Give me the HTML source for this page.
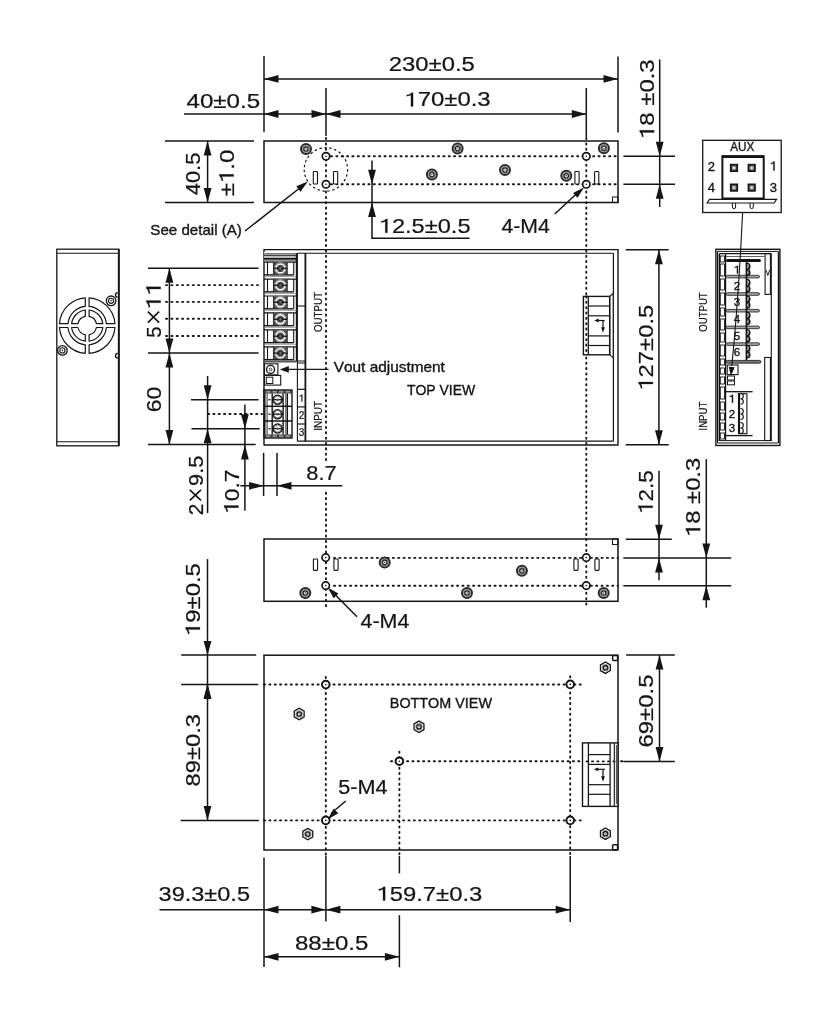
<!DOCTYPE html>
<html><head><meta charset="utf-8"><style>
html,body{margin:0;padding:0;background:#fff;}
svg{display:block;filter:grayscale(1);}
text{font-family:"Liberation Sans",sans-serif;fill:#151515;stroke:#151515;stroke-width:0.22px;font-kerning:none;}
text.b{stroke-width:0.35px;}
</style></head><body>
<svg width="838" height="1024" viewBox="0 0 838 1024">
<rect width="838" height="1024" fill="#fff"/>
<line x1="264" y1="56" x2="264" y2="132" stroke="#141414" stroke-width="1.5"/>
<line x1="618" y1="56.5" x2="618" y2="132.5" stroke="#141414" stroke-width="1.5"/>
<line x1="326" y1="88" x2="326" y2="136" stroke="#141414" stroke-width="1.5"/>
<line x1="586.3" y1="88" x2="586.3" y2="137" stroke="#141414" stroke-width="1.5"/>
<line x1="264" y1="78.9" x2="618" y2="78.9" stroke="#141414" stroke-width="1.5"/>
<polygon points="264,78.9 278.5,75 278.5,82.8" fill="#141414"/>
<polygon points="618,78.9 603.5,75 603.5,82.8" fill="#141414"/>
<line x1="184" y1="114" x2="586.3" y2="114" stroke="#141414" stroke-width="1.5"/>
<polygon points="264,114 278.5,110.1 278.5,117.9" fill="#141414"/>
<polygon points="326,114 311.5,110.1 311.5,117.9" fill="#141414"/>
<polygon points="326,114 340.5,110.1 340.5,117.9" fill="#141414"/>
<polygon points="586.3,114 571.8,110.1 571.8,117.9" fill="#141414"/>
<text x="388.8" y="71.1" font-size="20" textLength="86" lengthAdjust="spacingAndGlyphs">230±0.5</text>
<text x="404.36" y="106.4" font-size="20" textLength="86.29" lengthAdjust="spacingAndGlyphs"> 70±0.3</text><path transform="translate(404.36,106.40) scale(0.01168,-0.00977)" d="M560,0 L750,0 L750,1409 L610,1409 C540,1300 420,1210 200,1175 L200,1040 C370,1060 480,1110 560,1170 Z" fill="#151515" stroke="#151515" stroke-width="0.22" vector-effect="non-scaling-stroke"/>
<text x="186.45" y="108.2" font-size="20.4" textLength="73.77" lengthAdjust="spacingAndGlyphs">40±0.5</text>
<line x1="659.7" y1="59.4" x2="659.7" y2="207" stroke="#141414" stroke-width="1.5"/>
<polygon points="659.7,156.3 655.8,141.8 663.6,141.8" fill="#141414"/>
<polygon points="659.7,184.3 655.8,198.8 663.6,198.8" fill="#141414"/>
<line x1="623.4" y1="156.3" x2="675" y2="156.3" stroke="#141414" stroke-width="1.5"/>
<line x1="623.4" y1="184.3" x2="675" y2="184.3" stroke="#141414" stroke-width="1.5"/>
<g transform="translate(654.13,136.7) rotate(-90)"><text x="-2.34" y="0" font-size="21" textLength="79.69" lengthAdjust="spacingAndGlyphs"> 8 ±0.3</text><path transform="translate(-2.34,0.00) scale(0.01169,-0.01025)" d="M560,0 L750,0 L750,1409 L610,1409 C540,1300 420,1210 200,1175 L200,1040 C370,1060 480,1110 560,1170 Z" fill="#151515" stroke="#151515" stroke-width="0.22" vector-effect="non-scaling-stroke"/></g>
<rect x="264" y="141" width="354" height="61.5" fill="none" stroke="#141414" stroke-width="1.5"/>
<rect x="612.5" y="197" width="5.5" height="5.5" fill="none" stroke="#141414" stroke-width="1"/>
<line x1="165" y1="141" x2="254" y2="141" stroke="#141414" stroke-width="1.5"/>
<line x1="165" y1="202.5" x2="254" y2="202.5" stroke="#141414" stroke-width="1.5"/>
<line x1="207.6" y1="141" x2="207.6" y2="202.5" stroke="#141414" stroke-width="1.5"/>
<polygon points="207.6,141 203.7,155.5 211.5,155.5" fill="#141414"/>
<polygon points="207.6,202.5 203.7,188 211.5,188" fill="#141414"/>
<g transform="translate(199.83,194.8) rotate(-90)"><text x="-0.5" y="0" font-size="21" textLength="42.62" lengthAdjust="spacingAndGlyphs">40.5</text></g>
<g transform="translate(233.73,195.6) rotate(-90)"><text x="-0.76" y="0" font-size="21" textLength="46.6" lengthAdjust="spacingAndGlyphs">± .0</text><path transform="translate(12.43,0.00) scale(0.01174,-0.01025)" d="M560,0 L750,0 L750,1409 L610,1409 C540,1300 420,1210 200,1175 L200,1040 C370,1060 480,1110 560,1170 Z" fill="#151515" stroke="#151515" stroke-width="0.22" vector-effect="non-scaling-stroke"/></g>
<line x1="331" y1="156.3" x2="618" y2="156.3" stroke="#141414" stroke-width="1.9" stroke-dasharray="1.1 4.25" stroke-dashoffset="0" stroke-linecap="round"/>
<line x1="331" y1="184.3" x2="618" y2="184.3" stroke="#141414" stroke-width="1.9" stroke-dasharray="1.1 4.25" stroke-dashoffset="0" stroke-linecap="round"/>
<line x1="326" y1="138" x2="326" y2="464" stroke="#141414" stroke-width="1.9" stroke-dasharray="1.1 4.25" stroke-dashoffset="0" stroke-linecap="round"/>
<line x1="326" y1="492.7" x2="326" y2="607.5" stroke="#141414" stroke-width="1.9" stroke-dasharray="1.1 4.25" stroke-dashoffset="0" stroke-linecap="round"/>
<line x1="586.3" y1="138" x2="586.3" y2="606" stroke="#141414" stroke-width="1.9" stroke-dasharray="1.1 4.25" stroke-dashoffset="0" stroke-linecap="round"/>
<circle cx="325.9" cy="169.4" r="21.7" fill="none" stroke="#141414" stroke-width="1.2" stroke-dasharray="2.4 2.6"/>
<circle cx="326" cy="156.3" r="3.7" fill="#fff" stroke="#141414" stroke-width="1.7"/>
<circle cx="326" cy="156.3" r="0.8" fill="#141414" stroke="#141414" stroke-width="0"/>
<circle cx="326" cy="184.3" r="3.7" fill="#fff" stroke="#141414" stroke-width="1.7"/>
<circle cx="326" cy="184.3" r="0.8" fill="#141414" stroke="#141414" stroke-width="0"/>
<circle cx="586.3" cy="156.3" r="3.7" fill="#fff" stroke="#141414" stroke-width="1.7"/>
<circle cx="586.3" cy="156.3" r="0.8" fill="#141414" stroke="#141414" stroke-width="0"/>
<circle cx="586.3" cy="184.3" r="3.7" fill="#fff" stroke="#141414" stroke-width="1.7"/>
<circle cx="586.3" cy="184.3" r="0.8" fill="#141414" stroke="#141414" stroke-width="0"/>
<rect x="313.3" y="171.5" width="4.2" height="12.5" fill="#fff" stroke="#141414" stroke-width="1.1" rx="0.8"/>
<rect x="333.5" y="171.5" width="4.2" height="12.5" fill="#fff" stroke="#141414" stroke-width="1.1" rx="0.8"/>
<rect x="574.9" y="171.5" width="4.2" height="12.5" fill="#fff" stroke="#141414" stroke-width="1.1" rx="0.8"/>
<rect x="594.6" y="171.5" width="4.2" height="12.5" fill="#fff" stroke="#141414" stroke-width="1.1" rx="0.8"/>
<circle cx="306" cy="149" r="5" fill="#d0d0d0" stroke="#2a2a2a" stroke-width="2.0"/>
<circle cx="306" cy="149" r="3.3" fill="none" stroke="#666" stroke-width="0.8"/>
<circle cx="306" cy="149" r="2.2" fill="#fff" stroke="#222" stroke-width="1.2"/>
<circle cx="306" cy="149" r="0.7" fill="#141414" stroke="#141414" stroke-width="0"/>
<circle cx="457.6" cy="148.6" r="5" fill="#d0d0d0" stroke="#2a2a2a" stroke-width="2.0"/>
<circle cx="457.6" cy="148.6" r="3.3" fill="none" stroke="#666" stroke-width="0.8"/>
<circle cx="457.6" cy="148.6" r="2.2" fill="#fff" stroke="#222" stroke-width="1.2"/>
<circle cx="457.6" cy="148.6" r="0.7" fill="#141414" stroke="#141414" stroke-width="0"/>
<circle cx="431.9" cy="174.6" r="5" fill="#d0d0d0" stroke="#2a2a2a" stroke-width="2.0"/>
<circle cx="431.9" cy="174.6" r="3.3" fill="none" stroke="#666" stroke-width="0.8"/>
<circle cx="431.9" cy="174.6" r="2.2" fill="#fff" stroke="#222" stroke-width="1.2"/>
<circle cx="431.9" cy="174.6" r="0.7" fill="#141414" stroke="#141414" stroke-width="0"/>
<circle cx="505" cy="170.1" r="5" fill="#d0d0d0" stroke="#2a2a2a" stroke-width="2.0"/>
<circle cx="505" cy="170.1" r="3.3" fill="none" stroke="#666" stroke-width="0.8"/>
<circle cx="505" cy="170.1" r="2.2" fill="#fff" stroke="#222" stroke-width="1.2"/>
<circle cx="505" cy="170.1" r="0.7" fill="#141414" stroke="#141414" stroke-width="0"/>
<circle cx="566.3" cy="175.8" r="5" fill="#d0d0d0" stroke="#2a2a2a" stroke-width="2.0"/>
<circle cx="566.3" cy="175.8" r="3.3" fill="none" stroke="#666" stroke-width="0.8"/>
<circle cx="566.3" cy="175.8" r="2.2" fill="#fff" stroke="#222" stroke-width="1.2"/>
<circle cx="566.3" cy="175.8" r="0.7" fill="#141414" stroke="#141414" stroke-width="0"/>
<circle cx="603.9" cy="148.2" r="5" fill="#d0d0d0" stroke="#2a2a2a" stroke-width="2.0"/>
<circle cx="603.9" cy="148.2" r="3.3" fill="none" stroke="#666" stroke-width="0.8"/>
<circle cx="603.9" cy="148.2" r="2.2" fill="#fff" stroke="#222" stroke-width="1.2"/>
<circle cx="603.9" cy="148.2" r="0.7" fill="#141414" stroke="#141414" stroke-width="0"/>
<text x="150.31" y="235.2" font-size="14.3" textLength="91.62" lengthAdjust="spacingAndGlyphs" class="b">See detail (A)</text>
<line x1="245" y1="231" x2="301" y2="187" stroke="#141414" stroke-width="1.5"/>
<polygon points="307.8,181.6 300.47,191.69 296.27,186.35" fill="#141414"/>
<line x1="372" y1="160.5" x2="372" y2="238.3" stroke="#141414" stroke-width="1.5"/>
<line x1="371.3" y1="238.3" x2="469.6" y2="238.3" stroke="#141414" stroke-width="1.5"/>
<polygon points="372,184.3 368.1,169.8 375.9,169.8" fill="#141414"/>
<polygon points="372,202.5 368.1,217 375.9,217" fill="#141414"/>
<text x="378.79" y="232.8" font-size="20.2" textLength="91.8" lengthAdjust="spacingAndGlyphs"> 2.5±0.5</text><path transform="translate(378.79,232.80) scale(0.01154,-0.00986)" d="M560,0 L750,0 L750,1409 L610,1409 C540,1300 420,1210 200,1175 L200,1040 C370,1060 480,1110 560,1170 Z" fill="#151515" stroke="#151515" stroke-width="0.22" vector-effect="non-scaling-stroke"/>
<text x="501.41" y="232.6" font-size="20.4" textLength="48.41" lengthAdjust="spacingAndGlyphs">4-M4</text>
<line x1="554.8" y1="214" x2="580" y2="190.5" stroke="#141414" stroke-width="1.5"/>
<polygon points="584.2,187.3 577.54,197.81 573.1,192.92" fill="#141414"/>
<line x1="264" y1="249.7" x2="618" y2="249.7" stroke="#141414" stroke-width="1.3"/>
<line x1="297.3" y1="253.2" x2="613.4" y2="253.2" stroke="#141414" stroke-width="1.1"/>
<line x1="264" y1="249.1" x2="264" y2="445.6" stroke="#141414" stroke-width="1.4"/>
<line x1="618" y1="249.1" x2="618" y2="445.6" stroke="#141414" stroke-width="1.4"/>
<line x1="613.4" y1="253.2" x2="613.4" y2="441.2" stroke="#141414" stroke-width="1.2"/>
<line x1="264" y1="445" x2="618" y2="445" stroke="#141414" stroke-width="1.3"/>
<line x1="297.4" y1="441.2" x2="613.4" y2="441.2" stroke="#141414" stroke-width="1.2"/>
<line x1="297.4" y1="253.2" x2="297.4" y2="441.2" stroke="#141414" stroke-width="1.1"/>
<line x1="305.4" y1="253.2" x2="305.4" y2="441.2" stroke="#141414" stroke-width="1.8"/>
<line x1="297.4" y1="306" x2="305.4" y2="306" stroke="#141414" stroke-width="1.1"/>
<line x1="297.4" y1="361" x2="305.4" y2="361" stroke="#141414" stroke-width="1.0"/>
<line x1="297.4" y1="363" x2="305.4" y2="363" stroke="#141414" stroke-width="1.0"/>
<line x1="297.4" y1="389.3" x2="305.4" y2="389.3" stroke="#141414" stroke-width="1.2"/>
<line x1="297.4" y1="406.9" x2="305.4" y2="406.9" stroke="#141414" stroke-width="1.2"/>
<line x1="297.4" y1="424" x2="305.4" y2="424" stroke="#141414" stroke-width="1.2"/>
<path transform="translate(298.72,401.50) scale(0.00488,-0.00488)" d="M560,0 L750,0 L750,1409 L610,1409 C540,1300 420,1210 200,1175 L200,1040 C370,1060 480,1110 560,1170 Z" fill="#151515" stroke="#151515" stroke-width="0.22" vector-effect="non-scaling-stroke"/>
<text x="301.5" y="418.8" font-size="10" text-anchor="middle">2</text>
<text x="301.5" y="436.2" font-size="10" text-anchor="middle">3</text>
<rect x="264" y="252" width="32.4" height="10" fill="#fff" stroke="none"/>
<line x1="264" y1="253.8" x2="296.4" y2="253.8" stroke="#444" stroke-width="1.0"/>
<line x1="264" y1="255.3" x2="296.4" y2="255.3" stroke="#141414" stroke-width="1.0"/>
<line x1="264" y1="257" x2="296.4" y2="257" stroke="#666" stroke-width="0.9"/>
<line x1="264" y1="258.9" x2="296.4" y2="258.9" stroke="#141414" stroke-width="1.6"/>
<line x1="264" y1="260.8" x2="296.4" y2="260.8" stroke="#555" stroke-width="0.9"/>
<line x1="296.4" y1="253.2" x2="296.4" y2="362" stroke="#141414" stroke-width="1.2"/>
<line x1="264" y1="262.1" x2="296.4" y2="262.1" stroke="#141414" stroke-width="1.2"/>
<line x1="267.5" y1="262.1" x2="267.5" y2="274.9" stroke="#141414" stroke-width="1.1"/>
<line x1="273.5" y1="262.1" x2="273.5" y2="274.9" stroke="#141414" stroke-width="1.1"/>
<line x1="287.1" y1="262.1" x2="287.1" y2="274.9" stroke="#141414" stroke-width="1.1"/>
<line x1="293.7" y1="262.1" x2="293.7" y2="274.9" stroke="#141414" stroke-width="1.1"/>
<line x1="264" y1="274.9" x2="293.7" y2="274.9" stroke="#141414" stroke-width="1.4"/>
<rect x="273.4" y="262.6" width="14" height="11.8" fill="#4a4a4a"/>
<circle cx="280.4" cy="268.4" r="4.4" fill="none" stroke="#fff" stroke-width="1.6"/>
<circle cx="280.4" cy="268.4" r="5.7" fill="none" stroke="#bbb" stroke-width="0.8"/>
<line x1="273.4" y1="268.4" x2="287.4" y2="268.4" stroke="#141414" stroke-width="1.4"/>
<circle cx="280.4" cy="268.4" r="1.6" fill="#777" stroke="#222" stroke-width="0.8"/>
<line x1="264" y1="276.5" x2="296.4" y2="276.5" stroke="#888" stroke-width="0.8"/>
<line x1="264" y1="279.05" x2="296.4" y2="279.05" stroke="#141414" stroke-width="1.2"/>
<line x1="267.5" y1="279.05" x2="267.5" y2="291.85" stroke="#141414" stroke-width="1.1"/>
<line x1="273.5" y1="279.05" x2="273.5" y2="291.85" stroke="#141414" stroke-width="1.1"/>
<line x1="287.1" y1="279.05" x2="287.1" y2="291.85" stroke="#141414" stroke-width="1.1"/>
<line x1="293.7" y1="279.05" x2="293.7" y2="291.85" stroke="#141414" stroke-width="1.1"/>
<line x1="264" y1="291.85" x2="293.7" y2="291.85" stroke="#141414" stroke-width="1.4"/>
<rect x="273.4" y="279.55" width="14" height="11.8" fill="#4a4a4a"/>
<circle cx="280.4" cy="285.35" r="4.4" fill="none" stroke="#fff" stroke-width="1.6"/>
<circle cx="280.4" cy="285.35" r="5.7" fill="none" stroke="#bbb" stroke-width="0.8"/>
<line x1="273.4" y1="285.35" x2="287.4" y2="285.35" stroke="#141414" stroke-width="1.4"/>
<circle cx="280.4" cy="285.35" r="1.6" fill="#777" stroke="#222" stroke-width="0.8"/>
<line x1="264" y1="293.45" x2="296.4" y2="293.45" stroke="#888" stroke-width="0.8"/>
<line x1="264" y1="296" x2="296.4" y2="296" stroke="#141414" stroke-width="1.2"/>
<line x1="267.5" y1="296" x2="267.5" y2="308.8" stroke="#141414" stroke-width="1.1"/>
<line x1="273.5" y1="296" x2="273.5" y2="308.8" stroke="#141414" stroke-width="1.1"/>
<line x1="287.1" y1="296" x2="287.1" y2="308.8" stroke="#141414" stroke-width="1.1"/>
<line x1="293.7" y1="296" x2="293.7" y2="308.8" stroke="#141414" stroke-width="1.1"/>
<line x1="264" y1="308.8" x2="293.7" y2="308.8" stroke="#141414" stroke-width="1.4"/>
<rect x="273.4" y="296.5" width="14" height="11.8" fill="#4a4a4a"/>
<circle cx="280.4" cy="302.3" r="4.4" fill="none" stroke="#fff" stroke-width="1.6"/>
<circle cx="280.4" cy="302.3" r="5.7" fill="none" stroke="#bbb" stroke-width="0.8"/>
<line x1="273.4" y1="302.3" x2="287.4" y2="302.3" stroke="#141414" stroke-width="1.4"/>
<circle cx="280.4" cy="302.3" r="1.6" fill="#777" stroke="#222" stroke-width="0.8"/>
<line x1="264" y1="310.4" x2="296.4" y2="310.4" stroke="#888" stroke-width="0.8"/>
<line x1="264" y1="312.95" x2="296.4" y2="312.95" stroke="#141414" stroke-width="1.2"/>
<line x1="267.5" y1="312.95" x2="267.5" y2="325.75" stroke="#141414" stroke-width="1.1"/>
<line x1="273.5" y1="312.95" x2="273.5" y2="325.75" stroke="#141414" stroke-width="1.1"/>
<line x1="287.1" y1="312.95" x2="287.1" y2="325.75" stroke="#141414" stroke-width="1.1"/>
<line x1="293.7" y1="312.95" x2="293.7" y2="325.75" stroke="#141414" stroke-width="1.1"/>
<line x1="264" y1="325.75" x2="293.7" y2="325.75" stroke="#141414" stroke-width="1.4"/>
<rect x="273.4" y="313.45" width="14" height="11.8" fill="#4a4a4a"/>
<circle cx="280.4" cy="319.25" r="4.4" fill="none" stroke="#fff" stroke-width="1.6"/>
<circle cx="280.4" cy="319.25" r="5.7" fill="none" stroke="#bbb" stroke-width="0.8"/>
<line x1="273.4" y1="319.25" x2="287.4" y2="319.25" stroke="#141414" stroke-width="1.4"/>
<circle cx="280.4" cy="319.25" r="1.6" fill="#777" stroke="#222" stroke-width="0.8"/>
<line x1="264" y1="327.35" x2="296.4" y2="327.35" stroke="#888" stroke-width="0.8"/>
<line x1="264" y1="329.9" x2="296.4" y2="329.9" stroke="#141414" stroke-width="1.2"/>
<line x1="267.5" y1="329.9" x2="267.5" y2="342.7" stroke="#141414" stroke-width="1.1"/>
<line x1="273.5" y1="329.9" x2="273.5" y2="342.7" stroke="#141414" stroke-width="1.1"/>
<line x1="287.1" y1="329.9" x2="287.1" y2="342.7" stroke="#141414" stroke-width="1.1"/>
<line x1="293.7" y1="329.9" x2="293.7" y2="342.7" stroke="#141414" stroke-width="1.1"/>
<line x1="264" y1="342.7" x2="293.7" y2="342.7" stroke="#141414" stroke-width="1.4"/>
<rect x="273.4" y="330.4" width="14" height="11.8" fill="#4a4a4a"/>
<circle cx="280.4" cy="336.2" r="4.4" fill="none" stroke="#fff" stroke-width="1.6"/>
<circle cx="280.4" cy="336.2" r="5.7" fill="none" stroke="#bbb" stroke-width="0.8"/>
<line x1="273.4" y1="336.2" x2="287.4" y2="336.2" stroke="#141414" stroke-width="1.4"/>
<circle cx="280.4" cy="336.2" r="1.6" fill="#777" stroke="#222" stroke-width="0.8"/>
<line x1="264" y1="344.3" x2="296.4" y2="344.3" stroke="#888" stroke-width="0.8"/>
<line x1="264" y1="346.85" x2="296.4" y2="346.85" stroke="#141414" stroke-width="1.2"/>
<line x1="267.5" y1="346.85" x2="267.5" y2="359.65" stroke="#141414" stroke-width="1.1"/>
<line x1="273.5" y1="346.85" x2="273.5" y2="359.65" stroke="#141414" stroke-width="1.1"/>
<line x1="287.1" y1="346.85" x2="287.1" y2="359.65" stroke="#141414" stroke-width="1.1"/>
<line x1="293.7" y1="346.85" x2="293.7" y2="359.65" stroke="#141414" stroke-width="1.1"/>
<line x1="264" y1="359.65" x2="293.7" y2="359.65" stroke="#141414" stroke-width="1.4"/>
<rect x="273.4" y="347.35" width="14" height="11.8" fill="#4a4a4a"/>
<circle cx="280.4" cy="353.15" r="4.4" fill="none" stroke="#fff" stroke-width="1.6"/>
<circle cx="280.4" cy="353.15" r="5.7" fill="none" stroke="#bbb" stroke-width="0.8"/>
<line x1="273.4" y1="353.15" x2="287.4" y2="353.15" stroke="#141414" stroke-width="1.4"/>
<circle cx="280.4" cy="353.15" r="1.6" fill="#777" stroke="#222" stroke-width="0.8"/>
<line x1="264" y1="361.25" x2="296.4" y2="361.25" stroke="#888" stroke-width="0.8"/>
<line x1="264" y1="361.6" x2="296.4" y2="361.6" stroke="#555" stroke-width="2.0"/>
<rect x="264.5" y="363.8" width="13.4" height="11.1" fill="none" stroke="#141414" stroke-width="1.1"/>
<circle cx="270.5" cy="369.4" r="4" fill="none" stroke="#141414" stroke-width="1.4"/>
<circle cx="270.5" cy="369.4" r="1.4" fill="none" stroke="#141414" stroke-width="0.8"/>
<rect x="264.5" y="375.4" width="16.2" height="9.7" fill="none" stroke="#141414" stroke-width="1.1"/>
<rect x="266.3" y="377.2" width="6.5" height="6.3" fill="none" stroke="#141414" stroke-width="1.0"/>
<line x1="286" y1="369.4" x2="328.6" y2="369.4" stroke="#141414" stroke-width="1.1"/>
<polygon points="279.8,369.4 288.8,366.1 288.8,372.7" fill="#141414"/>
<text x="333.73" y="371.7" font-size="14.5" textLength="111.18" lengthAdjust="spacingAndGlyphs" class="b">Vout adjustment</text>
<text x="406.89" y="394.6" font-size="14.3" textLength="68.36" lengthAdjust="spacingAndGlyphs" class="b">TOP VIEW</text>
<rect x="264" y="390" width="28" height="48" fill="none" stroke="#141414" stroke-width="1.4"/>
<rect x="264.5" y="390.3" width="27" height="3.2" fill="#333"/>
<rect x="264.5" y="434.5" width="27" height="3.2" fill="#333"/>
<line x1="266" y1="391.9" x2="270.5" y2="391.9" stroke="#eee" stroke-width="0.9"/>
<line x1="266" y1="436.1" x2="270.5" y2="436.1" stroke="#eee" stroke-width="0.9"/>
<line x1="272.5" y1="391.9" x2="277" y2="391.9" stroke="#eee" stroke-width="0.9"/>
<line x1="272.5" y1="436.1" x2="277" y2="436.1" stroke="#eee" stroke-width="0.9"/>
<line x1="279" y1="391.9" x2="283.5" y2="391.9" stroke="#eee" stroke-width="0.9"/>
<line x1="279" y1="436.1" x2="283.5" y2="436.1" stroke="#eee" stroke-width="0.9"/>
<line x1="285.5" y1="391.9" x2="290" y2="391.9" stroke="#eee" stroke-width="0.9"/>
<line x1="285.5" y1="436.1" x2="290" y2="436.1" stroke="#eee" stroke-width="0.9"/>
<line x1="264.8" y1="393.5" x2="264.8" y2="434.5" stroke="#141414" stroke-width="1.4"/>
<line x1="267.1" y1="393.5" x2="267.1" y2="434.5" stroke="#141414" stroke-width="0.9"/>
<line x1="272.2" y1="393.5" x2="272.2" y2="434.5" stroke="#141414" stroke-width="1.4"/>
<line x1="283.1" y1="393.5" x2="283.1" y2="434.5" stroke="#141414" stroke-width="1.4"/>
<line x1="285.9" y1="393.5" x2="285.9" y2="434.5" stroke="#141414" stroke-width="0.9"/>
<line x1="287.4" y1="393.5" x2="287.4" y2="434.5" stroke="#141414" stroke-width="1.3"/>
<circle cx="277.6" cy="399.7" r="4.5" fill="none" stroke="#141414" stroke-width="1.5"/>
<path d="M274.4,398.5 a3.3,3.3 0 0 1 6.4,0 M274.4,400.9 a3.3,3.3 0 0 0 6.4,0" fill="none" stroke="#666" stroke-width="1"/>
<line x1="272.2" y1="399.7" x2="283.1" y2="399.7" stroke="#141414" stroke-width="1.3"/>
<circle cx="277.6" cy="399.7" r="1.2" fill="#555" stroke="#141414" stroke-width="0"/>
<line x1="268.5" y1="399.7" x2="270.5" y2="399.7" stroke="#141414" stroke-width="1.4"/>
<circle cx="277.6" cy="414.2" r="4.5" fill="none" stroke="#141414" stroke-width="1.5"/>
<path d="M274.4,413 a3.3,3.3 0 0 1 6.4,0 M274.4,415.4 a3.3,3.3 0 0 0 6.4,0" fill="none" stroke="#666" stroke-width="1"/>
<line x1="272.2" y1="414.2" x2="283.1" y2="414.2" stroke="#141414" stroke-width="1.3"/>
<circle cx="277.6" cy="414.2" r="1.2" fill="#555" stroke="#141414" stroke-width="0"/>
<line x1="268.5" y1="414.2" x2="270.5" y2="414.2" stroke="#141414" stroke-width="1.4"/>
<circle cx="277.6" cy="428.6" r="4.5" fill="none" stroke="#141414" stroke-width="1.5"/>
<path d="M274.4,427.4 a3.3,3.3 0 0 1 6.4,0 M274.4,429.8 a3.3,3.3 0 0 0 6.4,0" fill="none" stroke="#666" stroke-width="1"/>
<line x1="272.2" y1="428.6" x2="283.1" y2="428.6" stroke="#141414" stroke-width="1.3"/>
<circle cx="277.6" cy="428.6" r="1.2" fill="#555" stroke="#141414" stroke-width="0"/>
<line x1="268.5" y1="428.6" x2="270.5" y2="428.6" stroke="#141414" stroke-width="1.4"/>
<line x1="264" y1="406.3" x2="292" y2="406.3" stroke="#141414" stroke-width="1.5"/>
<line x1="264" y1="421" x2="292" y2="421" stroke="#141414" stroke-width="1.5"/>
<g transform="translate(322.32,331.6) rotate(-90)"><text x="-0.46" y="0" font-size="11.8" textLength="40.09" lengthAdjust="spacingAndGlyphs">OUTPUT</text></g>
<g transform="translate(322.06,429.8) rotate(-90)"><text x="-0.91" y="0" font-size="11.8" textLength="29.74" lengthAdjust="spacingAndGlyphs">INPUT</text></g>
<polygon points="609.7,296.4 613.2,293.5 613.2,357.7 609.7,354.8" fill="#fff" stroke="#141414" stroke-width="1.1"/>
<rect x="583.4" y="296.4" width="26.3" height="58.4" fill="#fff" stroke="#141414" stroke-width="1.4"/>
<line x1="588.3" y1="296.4" x2="588.3" y2="354.8" stroke="#141414" stroke-width="1.3"/>
<line x1="588.3" y1="306" x2="609.7" y2="306" stroke="#141414" stroke-width="1.2"/>
<line x1="588.3" y1="315.8" x2="609.7" y2="315.8" stroke="#141414" stroke-width="1.2"/>
<line x1="588.3" y1="335.9" x2="609.7" y2="335.9" stroke="#141414" stroke-width="1.2"/>
<line x1="588.3" y1="345.5" x2="609.7" y2="345.5" stroke="#141414" stroke-width="1.2"/>
<line x1="597.5" y1="320.5" x2="604.8" y2="320.5" stroke="#141414" stroke-width="1.2"/>
<line x1="603" y1="320.5" x2="603" y2="329" stroke="#141414" stroke-width="1.2"/>
<polygon points="603,332.7 601.1,327.2 604.9,327.2" fill="#141414"/>
<polygon points="594.2,320.5 598.7,318.6 598.7,322.4" fill="#141414"/>
<line x1="586.3" y1="296.4" x2="586.3" y2="354.8" stroke="#141414" stroke-width="1.9" stroke-dasharray="1.1 4.25" stroke-dashoffset="0" stroke-linecap="round"/>
<line x1="148" y1="268.3" x2="258.6" y2="268.3" stroke="#141414" stroke-width="1.5"/>
<line x1="148" y1="353.1" x2="258.6" y2="353.1" stroke="#141414" stroke-width="1.5"/>
<line x1="148" y1="444.6" x2="255.7" y2="444.6" stroke="#141414" stroke-width="1.5"/>
<line x1="166" y1="285.1" x2="262" y2="285.1" stroke="#141414" stroke-width="1.9" stroke-dasharray="1.1 4.25" stroke-dashoffset="0" stroke-linecap="round"/>
<line x1="166" y1="301.9" x2="262" y2="301.9" stroke="#141414" stroke-width="1.9" stroke-dasharray="1.1 4.25" stroke-dashoffset="0" stroke-linecap="round"/>
<line x1="166" y1="318.8" x2="262" y2="318.8" stroke="#141414" stroke-width="1.9" stroke-dasharray="1.1 4.25" stroke-dashoffset="0" stroke-linecap="round"/>
<line x1="166" y1="336" x2="262" y2="336" stroke="#141414" stroke-width="1.9" stroke-dasharray="1.1 4.25" stroke-dashoffset="0" stroke-linecap="round"/>
<line x1="169.4" y1="268.3" x2="169.4" y2="353.1" stroke="#141414" stroke-width="1.5"/>
<polygon points="169.4,268.3 165.5,282.8 173.3,282.8" fill="#141414"/>
<polygon points="169.4,353.1 165.5,338.6 173.3,338.6" fill="#141414"/>
<line x1="169.4" y1="353.1" x2="169.4" y2="444.6" stroke="#141414" stroke-width="1.5"/>
<polygon points="169.4,353.1 165.5,367.6 173.3,367.6" fill="#141414"/>
<polygon points="169.4,444.6 165.5,430.1 173.3,430.1" fill="#141414"/>
<g transform="translate(160.72,336.9) rotate(-90)"><text x="-0.82" y="0" font-size="21" textLength="11.38" lengthAdjust="spacingAndGlyphs">5</text></g>
<g transform="translate(160.72,307.2) rotate(-90)"><text x="-2.42" y="0" font-size="21" textLength="27.51" lengthAdjust="spacingAndGlyphs">  </text><path transform="translate(-2.42,0.00) scale(0.01208,-0.01025)" d="M560,0 L750,0 L750,1409 L610,1409 C540,1300 420,1210 200,1175 L200,1040 C370,1060 480,1110 560,1170 Z" fill="#151515" stroke="#151515" stroke-width="0.22" vector-effect="non-scaling-stroke"/><path transform="translate(11.34,0.00) scale(0.01208,-0.01025)" d="M560,0 L750,0 L750,1409 L610,1409 C540,1300 420,1210 200,1175 L200,1040 C370,1060 480,1110 560,1170 Z" fill="#151515" stroke="#151515" stroke-width="0.22" vector-effect="non-scaling-stroke"/></g>
<line x1="147.9" y1="311.6" x2="159.1" y2="322.6" stroke="#141414" stroke-width="1.6"/>
<line x1="147.9" y1="322.6" x2="159.1" y2="311.6" stroke="#141414" stroke-width="1.6"/>
<g transform="translate(160.83,411) rotate(-90)"><text x="-1.16" y="0" font-size="21" textLength="25.35" lengthAdjust="spacingAndGlyphs">60</text></g>
<line x1="191" y1="399.8" x2="258.6" y2="399.8" stroke="#141414" stroke-width="1.5"/>
<line x1="191.5" y1="428.7" x2="259.6" y2="428.7" stroke="#141414" stroke-width="1.5"/>
<line x1="208" y1="414" x2="262" y2="414" stroke="#141414" stroke-width="1.9" stroke-dasharray="1.1 4.25" stroke-dashoffset="0" stroke-linecap="round"/>
<line x1="207.6" y1="376" x2="207.6" y2="513" stroke="#141414" stroke-width="1.5"/>
<polygon points="207.6,399.8 203.7,385.3 211.5,385.3" fill="#141414"/>
<polygon points="207.6,428.7 203.7,443.2 211.5,443.2" fill="#141414"/>
<line x1="244.9" y1="404.5" x2="244.9" y2="510.7" stroke="#141414" stroke-width="1.5"/>
<polygon points="244.9,428.7 241,414.2 248.8,414.2" fill="#141414"/>
<polygon points="244.9,445 241,459.5 248.8,459.5" fill="#141414"/>
<g transform="translate(202.73,514.2) rotate(-90)"><text x="-1.05" y="0" font-size="21" textLength="11.6" lengthAdjust="spacingAndGlyphs">2</text></g>
<g transform="translate(202.73,484.9) rotate(-90)"><text x="-1.02" y="0" font-size="21" textLength="30.13" lengthAdjust="spacingAndGlyphs">9.5</text></g>
<line x1="189.8" y1="489.9" x2="201" y2="500.4" stroke="#141414" stroke-width="1.6"/>
<line x1="189.8" y1="500.4" x2="201" y2="489.9" stroke="#141414" stroke-width="1.6"/>
<g transform="translate(238.53,511.7) rotate(-90)"><text x="-2.23" y="0" font-size="21" textLength="44.48" lengthAdjust="spacingAndGlyphs"> 0.7</text><path transform="translate(-2.23,0.00) scale(0.01116,-0.01025)" d="M560,0 L750,0 L750,1409 L610,1409 C540,1300 420,1210 200,1175 L200,1040 C370,1060 480,1110 560,1170 Z" fill="#151515" stroke="#151515" stroke-width="0.22" vector-effect="non-scaling-stroke"/></g>
<line x1="263.6" y1="452.9" x2="263.6" y2="496" stroke="#141414" stroke-width="1.5"/>
<line x1="277" y1="452.9" x2="277" y2="496" stroke="#141414" stroke-width="1.5"/>
<line x1="240.3" y1="485.8" x2="342.3" y2="485.8" stroke="#141414" stroke-width="1.5"/>
<polygon points="263.6,485.8 249.1,481.9 249.1,489.7" fill="#141414"/>
<polygon points="277,485.8 291.5,481.9 291.5,489.7" fill="#141414"/>
<text x="306.25" y="480.1" font-size="20" textLength="30.35" lengthAdjust="spacingAndGlyphs">8.7</text>
<line x1="625.7" y1="249.8" x2="668.7" y2="249.8" stroke="#141414" stroke-width="1.5"/>
<line x1="625.7" y1="444.8" x2="668.7" y2="444.8" stroke="#141414" stroke-width="1.5"/>
<line x1="658.9" y1="249.8" x2="658.9" y2="444.8" stroke="#141414" stroke-width="1.5"/>
<polygon points="658.9,249.8 655,264.3 662.8,264.3" fill="#141414"/>
<polygon points="658.9,444.8 655,430.3 662.8,430.3" fill="#141414"/>
<g transform="translate(652.93,388.3) rotate(-90)"><text x="-2.33" y="0" font-size="21" textLength="85.93" lengthAdjust="spacingAndGlyphs"> 27±0.5</text><path transform="translate(-2.33,0.00) scale(0.01163,-0.01025)" d="M560,0 L750,0 L750,1409 L610,1409 C540,1300 420,1210 200,1175 L200,1040 C370,1060 480,1110 560,1170 Z" fill="#151515" stroke="#151515" stroke-width="0.22" vector-effect="non-scaling-stroke"/></g>
<rect x="56.8" y="249.2" width="62" height="196.6" fill="none" stroke="#141414" stroke-width="1.3"/>
<line x1="56.8" y1="253.3" x2="118.8" y2="253.3" stroke="#141414" stroke-width="1.1"/>
<line x1="56.8" y1="441.8" x2="118.8" y2="441.8" stroke="#141414" stroke-width="1.1"/>
<line x1="118.8" y1="249.2" x2="118.8" y2="445.8" stroke="#141414" stroke-width="1.9"/>
<path d="M114.93,327.5 A27.8,27.8 0 0 1 89.1,353.33 L89.1,344.81 A19.3,19.3 0 0 0 106.41,327.5 Z" fill="none" stroke="#141414" stroke-width="1.2" stroke-linejoin="round"/>
<path d="M102.78,327.5 A15.7,15.7 0 0 1 89.1,341.18 L89.1,334.81 A9.4,9.4 0 0 0 96.41,327.5 Z" fill="none" stroke="#141414" stroke-width="1.2" stroke-linejoin="round"/>
<path d="M85.3,353.33 A27.8,27.8 0 0 1 59.47,327.5 L67.99,327.5 A19.3,19.3 0 0 0 85.3,344.81 Z" fill="none" stroke="#141414" stroke-width="1.2" stroke-linejoin="round"/>
<path d="M85.3,341.18 A15.7,15.7 0 0 1 71.62,327.5 L77.99,327.5 A9.4,9.4 0 0 0 85.3,334.81 Z" fill="none" stroke="#141414" stroke-width="1.2" stroke-linejoin="round"/>
<path d="M59.47,323.7 A27.8,27.8 0 0 1 85.3,297.87 L85.3,306.39 A19.3,19.3 0 0 0 67.99,323.7 Z" fill="none" stroke="#141414" stroke-width="1.2" stroke-linejoin="round"/>
<path d="M71.62,323.7 A15.7,15.7 0 0 1 85.3,310.02 L85.3,316.39 A9.4,9.4 0 0 0 77.99,323.7 Z" fill="none" stroke="#141414" stroke-width="1.2" stroke-linejoin="round"/>
<path d="M89.1,297.87 A27.8,27.8 0 0 1 114.93,323.7 L106.41,323.7 A19.3,19.3 0 0 0 89.1,306.39 Z" fill="none" stroke="#141414" stroke-width="1.2" stroke-linejoin="round"/>
<path d="M89.1,310.02 A15.7,15.7 0 0 1 102.78,323.7 L96.41,323.7 A9.4,9.4 0 0 0 89.1,316.39 Z" fill="none" stroke="#141414" stroke-width="1.2" stroke-linejoin="round"/>
<circle cx="111.1" cy="300.8" r="4.8" fill="#fff" stroke="#141414" stroke-width="1.3"/>
<circle cx="111.1" cy="300.8" r="2.6" fill="none" stroke="#141414" stroke-width="1.1"/>
<circle cx="111.1" cy="300.8" r="0.8" fill="#141414" stroke="#141414" stroke-width="0"/>
<circle cx="62.4" cy="350.4" r="4.8" fill="#fff" stroke="#141414" stroke-width="1.3"/>
<circle cx="62.4" cy="350.4" r="2.6" fill="none" stroke="#141414" stroke-width="1.1"/>
<circle cx="62.4" cy="350.4" r="0.8" fill="#141414" stroke="#141414" stroke-width="0"/>
<path d="M117.8,292.6 a2.3,2.3 0 1 0 0,4.6" fill="none" stroke="#141414" stroke-width="1.3"/>
<path d="M117.8,353.4 a2.3,2.3 0 1 0 0,4.6" fill="none" stroke="#141414" stroke-width="1.3"/>
<rect x="715.9" y="249.3" width="64" height="196.2" fill="none" stroke="#141414" stroke-width="1.4"/>
<line x1="717.5" y1="251.4" x2="778.4" y2="251.4" stroke="#141414" stroke-width="1.0"/>
<line x1="717.5" y1="251.4" x2="717.5" y2="443" stroke="#141414" stroke-width="1.0"/>
<line x1="778.4" y1="251.4" x2="778.4" y2="443" stroke="#141414" stroke-width="1.2"/>
<line x1="717.5" y1="443" x2="778.4" y2="443" stroke="#141414" stroke-width="1.0"/>
<line x1="719.3" y1="253.6" x2="719.3" y2="441" stroke="#141414" stroke-width="1.5"/>
<line x1="719.3" y1="253.6" x2="771.3" y2="253.6" stroke="#141414" stroke-width="1.3"/>
<line x1="725.6" y1="253.6" x2="725.6" y2="441" stroke="#141414" stroke-width="1.2"/>
<line x1="771.3" y1="253.6" x2="771.3" y2="441" stroke="#141414" stroke-width="1.1"/>
<line x1="719.3" y1="440.6" x2="771.3" y2="440.6" stroke="#141414" stroke-width="1.0"/>
<rect x="720.3" y="256" width="4.2" height="6" fill="none" stroke="#141414" stroke-width="0.9"/>
<rect x="720.3" y="264" width="4.2" height="12" fill="none" stroke="#141414" stroke-width="0.9"/>
<rect x="720.3" y="279" width="4.2" height="11" fill="none" stroke="#141414" stroke-width="0.9"/>
<rect x="720.3" y="293" width="4.2" height="12" fill="none" stroke="#141414" stroke-width="0.9"/>
<rect x="720.3" y="308" width="4.2" height="8" fill="none" stroke="#141414" stroke-width="0.9"/>
<rect x="720.3" y="319" width="4.2" height="11" fill="none" stroke="#141414" stroke-width="0.9"/>
<rect x="720.3" y="333" width="4.2" height="9" fill="none" stroke="#141414" stroke-width="0.9"/>
<rect x="720.3" y="345" width="4.2" height="11" fill="none" stroke="#141414" stroke-width="0.9"/>
<rect x="720.3" y="359" width="4.2" height="6" fill="none" stroke="#141414" stroke-width="0.9"/>
<rect x="720.3" y="368" width="4.2" height="6" fill="none" stroke="#141414" stroke-width="0.9"/>
<rect x="720.3" y="377" width="4.2" height="7" fill="none" stroke="#141414" stroke-width="0.9"/>
<rect x="720.3" y="387" width="4.2" height="12" fill="none" stroke="#141414" stroke-width="0.9"/>
<rect x="720.3" y="402" width="4.2" height="8" fill="none" stroke="#141414" stroke-width="0.9"/>
<rect x="720.3" y="413" width="4.2" height="7" fill="none" stroke="#141414" stroke-width="0.9"/>
<rect x="720.3" y="423" width="4.2" height="7" fill="none" stroke="#141414" stroke-width="0.9"/>
<rect x="720.3" y="433" width="4.2" height="6" fill="none" stroke="#141414" stroke-width="0.9"/>
<line x1="726" y1="256.5" x2="764.4" y2="256.5" stroke="#555" stroke-width="0.9"/>
<rect x="726" y="258.9" width="35" height="3" rx="1.5" fill="#141414"/>
<rect x="726" y="275.3" width="33.5" height="2.6" rx="1.3" fill="#aaa" stroke="#141414" stroke-width="0.8"/>
<rect x="726" y="292.7" width="33.5" height="2.6" rx="1.3" fill="#aaa" stroke="#141414" stroke-width="0.8"/>
<rect x="726" y="309.4" width="33.5" height="2.6" rx="1.3" fill="#aaa" stroke="#141414" stroke-width="0.8"/>
<rect x="726" y="326.1" width="33.5" height="2.6" rx="1.3" fill="#aaa" stroke="#141414" stroke-width="0.8"/>
<rect x="726" y="342.8" width="33.5" height="2.6" rx="1.3" fill="#aaa" stroke="#141414" stroke-width="0.8"/>
<rect x="726" y="360.4" width="35" height="2.8" rx="1.4" fill="#777" stroke="#141414" stroke-width="0.8"/>
<line x1="746.4" y1="262.2" x2="746.4" y2="360.4" stroke="#141414" stroke-width="1.6"/>
<path transform="translate(733.77,273.60) scale(0.00566,-0.00566)" d="M560,0 L750,0 L750,1409 L610,1409 C540,1300 420,1210 200,1175 L200,1040 C370,1060 480,1110 560,1170 Z" fill="#151515" stroke="#151515" stroke-width="0.35" vector-effect="non-scaling-stroke"/>
<path d="M746.6,263.3 a3.2,3.1 0 0 1 0,6.2 a3.2,3.1 0 0 1 0,6.2" fill="none" stroke="#141414" stroke-width="1.5"/>
<path d="M746.6,265.5 a1.8,2 0 0 1 0,4 M746.6,270.5 a1.8,2 0 0 1 0,4" fill="none" stroke="#141414" stroke-width="0.8"/>
<text class="b" x="737" y="289.9" font-size="11.6" text-anchor="middle">2</text>
<path d="M746.6,279.6 a3.2,3.1 0 0 1 0,6.2 a3.2,3.1 0 0 1 0,6.2" fill="none" stroke="#141414" stroke-width="1.5"/>
<path d="M746.6,281.8 a1.8,2 0 0 1 0,4 M746.6,286.8 a1.8,2 0 0 1 0,4" fill="none" stroke="#141414" stroke-width="0.8"/>
<text class="b" x="737" y="306.2" font-size="11.6" text-anchor="middle">3</text>
<path d="M746.6,295.9 a3.2,3.1 0 0 1 0,6.2 a3.2,3.1 0 0 1 0,6.2" fill="none" stroke="#141414" stroke-width="1.5"/>
<path d="M746.6,298.1 a1.8,2 0 0 1 0,4 M746.6,303.1 a1.8,2 0 0 1 0,4" fill="none" stroke="#141414" stroke-width="0.8"/>
<text class="b" x="737" y="322.6" font-size="11.6" text-anchor="middle">4</text>
<path d="M746.6,312.3 a3.2,3.1 0 0 1 0,6.2 a3.2,3.1 0 0 1 0,6.2" fill="none" stroke="#141414" stroke-width="1.5"/>
<path d="M746.6,314.5 a1.8,2 0 0 1 0,4 M746.6,319.5 a1.8,2 0 0 1 0,4" fill="none" stroke="#141414" stroke-width="0.8"/>
<text class="b" x="737" y="340" font-size="11.6" text-anchor="middle">5</text>
<path d="M746.6,329.7 a3.2,3.1 0 0 1 0,6.2 a3.2,3.1 0 0 1 0,6.2" fill="none" stroke="#141414" stroke-width="1.5"/>
<path d="M746.6,331.9 a1.8,2 0 0 1 0,4 M746.6,336.9 a1.8,2 0 0 1 0,4" fill="none" stroke="#141414" stroke-width="0.8"/>
<text class="b" x="737" y="355.8" font-size="11.6" text-anchor="middle">6</text>
<path d="M746.6,345.5 a3.2,3.1 0 0 1 0,6.2 a3.2,3.1 0 0 1 0,6.2" fill="none" stroke="#141414" stroke-width="1.5"/>
<path d="M746.6,347.7 a1.8,2 0 0 1 0,4 M746.6,352.7 a1.8,2 0 0 1 0,4" fill="none" stroke="#141414" stroke-width="0.8"/>
<rect x="765.1" y="253.6" width="5.3" height="40.8" fill="none" stroke="#141414" stroke-width="1.1"/>
<path d="M766,270 L767.8,275.5 L769.6,270" fill="none" stroke="#141414" stroke-width="0.9"/>
<rect x="764.7" y="357.5" width="5.7" height="83" fill="none" stroke="#141414" stroke-width="1.1"/>
<rect x="727.2" y="365" width="10.8" height="9.6" fill="none" stroke="#141414" stroke-width="1.1"/>
<rect x="727.5" y="376" width="7" height="4" fill="none" stroke="#141414" stroke-width="1.0"/>
<rect x="727.5" y="381" width="7" height="3.8" fill="none" stroke="#141414" stroke-width="1.0"/>
<line x1="726" y1="391.7" x2="752.6" y2="391.7" stroke="#141414" stroke-width="1.3"/>
<line x1="726" y1="435.6" x2="752.6" y2="435.6" stroke="#141414" stroke-width="1.3"/>
<rect x="738.5" y="393.7" width="8.4" height="40" fill="none" stroke="#141414" stroke-width="1.1"/>
<line x1="739.2" y1="393.7" x2="739.2" y2="433.7" stroke="#141414" stroke-width="1.8"/>
<path transform="translate(728.77,402.80) scale(0.00566,-0.00566)" d="M560,0 L750,0 L750,1409 L610,1409 C540,1300 420,1210 200,1175 L200,1040 C370,1060 480,1110 560,1170 Z" fill="#151515" stroke="#151515" stroke-width="0.35" vector-effect="non-scaling-stroke"/>
<path d="M740.5,393.2 a2.8,2.75 0 0 1 0,5.5 a2.8,2.75 0 0 1 0,5.5" fill="none" stroke="#141414" stroke-width="1.1"/>
<text class="b" x="732" y="418.1" font-size="11.6" text-anchor="middle">2</text>
<path d="M740.5,408.5 a2.8,2.75 0 0 1 0,5.5 a2.8,2.75 0 0 1 0,5.5" fill="none" stroke="#141414" stroke-width="1.1"/>
<text class="b" x="732" y="432.1" font-size="11.6" text-anchor="middle">3</text>
<path d="M740.5,422.5 a2.8,2.75 0 0 1 0,5.5 a2.8,2.75 0 0 1 0,5.5" fill="none" stroke="#141414" stroke-width="1.1"/>
<g transform="translate(707.32,331.2) rotate(-90)"><text x="-0.45" y="0" font-size="11.8" textLength="39.27" lengthAdjust="spacingAndGlyphs">OUTPUT</text></g>
<g transform="translate(707.06,429.6) rotate(-90)"><text x="-0.89" y="0" font-size="11.8" textLength="28.81" lengthAdjust="spacingAndGlyphs">INPUT</text></g>
<path d="M742.6,212.5 Q738.5,300 731.8,366" fill="none" stroke="#141414" stroke-width="1.1"/>
<polygon points="730.9,376 728.72,366.77 734.69,367.31" fill="#141414"/>
<rect x="702.7" y="140.3" width="78.5" height="72.2" fill="none" stroke="#141414" stroke-width="1.3"/>
<text x="730.18" y="151.4" font-size="12.6" textLength="24.07" lengthAdjust="spacingAndGlyphs" class="b">AUX</text>
<rect x="722.4" y="156.1" width="41.3" height="42.4" fill="none" stroke="#141414" stroke-width="2.0"/>
<line x1="722.4" y1="157.2" x2="763.7" y2="157.2" stroke="#141414" stroke-width="1.6"/>
<rect x="729.9" y="163.8" width="8.2" height="8.2" fill="#141414"/>
<rect x="731.7" y="165.6" width="4.6" height="4.6" fill="#8a8a8a"/>
<rect x="733.1" y="167" width="1.8" height="1.8" fill="#fff"/>
<rect x="747.6" y="163.8" width="8.2" height="8.2" fill="#141414"/>
<rect x="749.4" y="165.6" width="4.6" height="4.6" fill="#8a8a8a"/>
<rect x="750.8" y="167" width="1.8" height="1.8" fill="#fff"/>
<rect x="729.9" y="183.5" width="8.2" height="8.2" fill="#141414"/>
<rect x="731.7" y="185.3" width="4.6" height="4.6" fill="#8a8a8a"/>
<rect x="733.1" y="186.7" width="1.8" height="1.8" fill="#fff"/>
<rect x="747.6" y="183.5" width="8.2" height="8.2" fill="#141414"/>
<rect x="749.4" y="185.3" width="4.6" height="4.6" fill="#8a8a8a"/>
<rect x="750.8" y="186.7" width="1.8" height="1.8" fill="#fff"/>
<polygon points="707,203 709.5,199.4 776.6,199.4 774,203" fill="#fff" stroke="#141414" stroke-width="1.2"/>
<path d="M732.4,203 v4 a1.6,1.6 0 0 0 3.2,0 v-4" fill="none" stroke="#141414" stroke-width="1"/>
<path d="M750.1,203 v4 a1.6,1.6 0 0 0 3.2,0 v-4" fill="none" stroke="#141414" stroke-width="1"/>
<text class="b" x="711.4" y="170.5" font-size="13" text-anchor="middle">2</text>
<path transform="translate(769.79,170.50) scale(0.00635,-0.00635)" d="M560,0 L750,0 L750,1409 L610,1409 C540,1300 420,1210 200,1175 L200,1040 C370,1060 480,1110 560,1170 Z" fill="#151515" stroke="#151515" stroke-width="0.35" vector-effect="non-scaling-stroke"/>
<text class="b" x="711.4" y="192" font-size="13" text-anchor="middle">4</text>
<text class="b" x="773.4" y="192" font-size="13" text-anchor="middle">3</text>
<line x1="625.8" y1="539.2" x2="671.8" y2="539.2" stroke="#141414" stroke-width="1.5"/>
<line x1="623.3" y1="557.9" x2="731.2" y2="557.9" stroke="#141414" stroke-width="1.5"/>
<line x1="623.3" y1="585.8" x2="731.2" y2="585.8" stroke="#141414" stroke-width="1.5"/>
<line x1="659" y1="470.8" x2="659" y2="580.3" stroke="#141414" stroke-width="1.5"/>
<polygon points="659,539.2 655.1,524.7 662.9,524.7" fill="#141414"/>
<polygon points="659,557.9 655.1,572.4 662.9,572.4" fill="#141414"/>
<line x1="706.3" y1="459.1" x2="706.3" y2="607.7" stroke="#141414" stroke-width="1.5"/>
<polygon points="706.3,557.9 702.4,543.4 710.2,543.4" fill="#141414"/>
<polygon points="706.3,585.8 702.4,600.3 710.2,600.3" fill="#141414"/>
<g transform="translate(652.73,511.8) rotate(-90)"><text x="-2.19" y="0" font-size="21" textLength="43.74" lengthAdjust="spacingAndGlyphs"> 2.5</text><path transform="translate(-2.19,0.00) scale(0.01097,-0.01025)" d="M560,0 L750,0 L750,1409 L610,1409 C540,1300 420,1210 200,1175 L200,1040 C370,1060 480,1110 560,1170 Z" fill="#151515" stroke="#151515" stroke-width="0.22" vector-effect="non-scaling-stroke"/></g>
<g transform="translate(700.23,534.7) rotate(-90)"><text x="-2.33" y="0" font-size="21" textLength="79.27" lengthAdjust="spacingAndGlyphs"> 8 ±0.3</text><path transform="translate(-2.33,0.00) scale(0.01163,-0.01025)" d="M560,0 L750,0 L750,1409 L610,1409 C540,1300 420,1210 200,1175 L200,1040 C370,1060 480,1110 560,1170 Z" fill="#151515" stroke="#151515" stroke-width="0.22" vector-effect="non-scaling-stroke"/></g>
<rect x="264" y="539" width="354" height="62.3" fill="none" stroke="#141414" stroke-width="1.5"/>
<rect x="612.5" y="539" width="5.5" height="5.5" fill="none" stroke="#141414" stroke-width="1"/>
<line x1="334" y1="557.9" x2="618" y2="557.9" stroke="#141414" stroke-width="1.9" stroke-dasharray="1.1 4.25" stroke-dashoffset="0" stroke-linecap="round"/>
<line x1="334" y1="585.8" x2="618" y2="585.8" stroke="#141414" stroke-width="1.9" stroke-dasharray="1.1 4.25" stroke-dashoffset="0" stroke-linecap="round"/>
<circle cx="325.7" cy="557.6" r="3.7" fill="#fff" stroke="#141414" stroke-width="1.7"/>
<circle cx="325.7" cy="557.6" r="0.8" fill="#141414" stroke="#141414" stroke-width="0"/>
<circle cx="325.7" cy="585.6" r="3.7" fill="#fff" stroke="#141414" stroke-width="1.7"/>
<circle cx="325.7" cy="585.6" r="0.8" fill="#141414" stroke="#141414" stroke-width="0"/>
<circle cx="586.3" cy="557.6" r="3.7" fill="#fff" stroke="#141414" stroke-width="1.7"/>
<circle cx="586.3" cy="557.6" r="0.8" fill="#141414" stroke="#141414" stroke-width="0"/>
<circle cx="586.3" cy="585.6" r="3.7" fill="#fff" stroke="#141414" stroke-width="1.7"/>
<circle cx="586.3" cy="585.6" r="0.8" fill="#141414" stroke="#141414" stroke-width="0"/>
<rect x="313.4" y="559" width="4.2" height="11.4" fill="#fff" stroke="#141414" stroke-width="1.1" rx="0.8"/>
<rect x="333.9" y="559" width="4.2" height="11.4" fill="#fff" stroke="#141414" stroke-width="1.1" rx="0.8"/>
<rect x="573.9" y="559" width="4.2" height="11.4" fill="#fff" stroke="#141414" stroke-width="1.1" rx="0.8"/>
<rect x="594.9" y="559" width="4.2" height="11.4" fill="#fff" stroke="#141414" stroke-width="1.1" rx="0.8"/>
<circle cx="384.7" cy="562.4" r="5" fill="#d0d0d0" stroke="#2a2a2a" stroke-width="2.0"/>
<circle cx="384.7" cy="562.4" r="3.3" fill="none" stroke="#666" stroke-width="0.8"/>
<circle cx="384.7" cy="562.4" r="2.2" fill="#fff" stroke="#222" stroke-width="1.2"/>
<circle cx="384.7" cy="562.4" r="0.7" fill="#141414" stroke="#141414" stroke-width="0"/>
<circle cx="305.3" cy="593" r="5" fill="#d0d0d0" stroke="#2a2a2a" stroke-width="2.0"/>
<circle cx="305.3" cy="593" r="3.3" fill="none" stroke="#666" stroke-width="0.8"/>
<circle cx="305.3" cy="593" r="2.2" fill="#fff" stroke="#222" stroke-width="1.2"/>
<circle cx="305.3" cy="593" r="0.7" fill="#141414" stroke="#141414" stroke-width="0"/>
<circle cx="521.9" cy="570.8" r="5" fill="#d0d0d0" stroke="#2a2a2a" stroke-width="2.0"/>
<circle cx="521.9" cy="570.8" r="3.3" fill="none" stroke="#666" stroke-width="0.8"/>
<circle cx="521.9" cy="570.8" r="2.2" fill="#fff" stroke="#222" stroke-width="1.2"/>
<circle cx="521.9" cy="570.8" r="0.7" fill="#141414" stroke="#141414" stroke-width="0"/>
<circle cx="467" cy="593" r="5" fill="#d0d0d0" stroke="#2a2a2a" stroke-width="2.0"/>
<circle cx="467" cy="593" r="3.3" fill="none" stroke="#666" stroke-width="0.8"/>
<circle cx="467" cy="593" r="2.2" fill="#fff" stroke="#222" stroke-width="1.2"/>
<circle cx="467" cy="593" r="0.7" fill="#141414" stroke="#141414" stroke-width="0"/>
<circle cx="603.7" cy="593" r="5" fill="#d0d0d0" stroke="#2a2a2a" stroke-width="2.0"/>
<circle cx="603.7" cy="593" r="3.3" fill="none" stroke="#666" stroke-width="0.8"/>
<circle cx="603.7" cy="593" r="2.2" fill="#fff" stroke="#222" stroke-width="1.2"/>
<circle cx="603.7" cy="593" r="0.7" fill="#141414" stroke="#141414" stroke-width="0"/>
<line x1="357" y1="616.8" x2="331" y2="590.5" stroke="#141414" stroke-width="1.5"/>
<polygon points="327.6,587.4 338.42,593.55 333.75,598.22" fill="#141414"/>
<text x="360.51" y="628.4" font-size="20.5" textLength="48.82" lengthAdjust="spacingAndGlyphs">4-M4</text>
<line x1="207.5" y1="559.1" x2="207.5" y2="700" stroke="#141414" stroke-width="1.5"/>
<polygon points="207.5,655.4 203.6,640.9 211.4,640.9" fill="#141414"/>
<line x1="181.2" y1="655.1" x2="256.2" y2="655.1" stroke="#141414" stroke-width="1.5"/>
<line x1="181.2" y1="684.4" x2="258.3" y2="684.4" stroke="#141414" stroke-width="1.5"/>
<polygon points="207.5,684.4 203.6,698.9 211.4,698.9" fill="#141414"/>
<g transform="translate(200.03,633.8) rotate(-90)"><text x="-2.34" y="0" font-size="21" textLength="73.04" lengthAdjust="spacingAndGlyphs"> 9±0.5</text><path transform="translate(-2.34,0.00) scale(0.01169,-0.01025)" d="M560,0 L750,0 L750,1409 L610,1409 C540,1300 420,1210 200,1175 L200,1040 C370,1060 480,1110 560,1170 Z" fill="#151515" stroke="#151515" stroke-width="0.22" vector-effect="non-scaling-stroke"/></g>
<rect x="264" y="655.2" width="354" height="194.8" fill="none" stroke="#141414" stroke-width="1.5"/>
<rect x="612.6" y="655.4" width="5" height="5" fill="none" stroke="#141414" stroke-width="1.5" rx="1"/>
<rect x="612.6" y="844.8" width="5" height="5" fill="none" stroke="#141414" stroke-width="1.5" rx="1"/>
<line x1="264" y1="684.5" x2="581.4" y2="684.5" stroke="#141414" stroke-width="1.9" stroke-dasharray="1.1 4.25" stroke-dashoffset="0" stroke-linecap="round"/>
<line x1="264" y1="820.4" x2="581.4" y2="820.4" stroke="#141414" stroke-width="1.9" stroke-dasharray="1.1 4.25" stroke-dashoffset="0" stroke-linecap="round"/>
<line x1="391" y1="761.2" x2="626" y2="761.2" stroke="#141414" stroke-width="1.9" stroke-dasharray="1.1 4.25" stroke-dashoffset="0" stroke-linecap="round"/>
<line x1="325.8" y1="677" x2="325.8" y2="856" stroke="#141414" stroke-width="1.9" stroke-dasharray="1.1 4.25" stroke-dashoffset="0" stroke-linecap="round"/>
<line x1="570.2" y1="676.3" x2="570.2" y2="856" stroke="#141414" stroke-width="1.9" stroke-dasharray="1.1 4.25" stroke-dashoffset="0" stroke-linecap="round"/>
<line x1="399.4" y1="751.6" x2="399.4" y2="856" stroke="#141414" stroke-width="1.9" stroke-dasharray="1.1 4.25" stroke-dashoffset="0" stroke-linecap="round"/>
<circle cx="325.8" cy="684.6" r="3.8" fill="#fff" stroke="#141414" stroke-width="2.0"/>
<circle cx="325.8" cy="684.6" r="0.8" fill="#141414" stroke="#141414" stroke-width="0"/>
<circle cx="325.8" cy="820.4" r="3.8" fill="#fff" stroke="#141414" stroke-width="2.0"/>
<circle cx="325.8" cy="820.4" r="0.8" fill="#141414" stroke="#141414" stroke-width="0"/>
<circle cx="570.2" cy="684.4" r="3.8" fill="#fff" stroke="#141414" stroke-width="2.0"/>
<circle cx="570.2" cy="684.4" r="0.8" fill="#141414" stroke="#141414" stroke-width="0"/>
<circle cx="570.2" cy="820.4" r="3.8" fill="#fff" stroke="#141414" stroke-width="2.0"/>
<circle cx="570.2" cy="820.4" r="0.8" fill="#141414" stroke="#141414" stroke-width="0"/>
<circle cx="399.4" cy="761.2" r="3.8" fill="#fff" stroke="#141414" stroke-width="2.0"/>
<circle cx="399.4" cy="761.2" r="0.8" fill="#141414" stroke="#141414" stroke-width="0"/>
<polygon points="304.14,716.85 299.2,719.7 294.26,716.85 294.26,711.15 299.2,708.3 304.14,711.15" fill="#fff" stroke="#141414" stroke-width="1.3"/>
<circle cx="299.2" cy="714" r="3.4" fill="none" stroke="#777" stroke-width="0.7"/>
<circle cx="299.2" cy="714" r="2.2" fill="none" stroke="#141414" stroke-width="1.3"/>
<circle cx="299.2" cy="714" r="0.8" fill="#555" stroke="#141414" stroke-width="0"/>
<polygon points="423.94,729.65 419,732.5 414.06,729.65 414.06,723.95 419,721.1 423.94,723.95" fill="#fff" stroke="#141414" stroke-width="1.3"/>
<circle cx="419" cy="726.8" r="3.4" fill="none" stroke="#777" stroke-width="0.7"/>
<circle cx="419" cy="726.8" r="2.2" fill="none" stroke="#141414" stroke-width="1.3"/>
<circle cx="419" cy="726.8" r="0.8" fill="#555" stroke="#141414" stroke-width="0"/>
<polygon points="312.74,836.95 307.8,839.8 302.86,836.95 302.86,831.25 307.8,828.4 312.74,831.25" fill="#fff" stroke="#141414" stroke-width="1.3"/>
<circle cx="307.8" cy="834.1" r="3.4" fill="none" stroke="#777" stroke-width="0.7"/>
<circle cx="307.8" cy="834.1" r="2.2" fill="none" stroke="#141414" stroke-width="1.3"/>
<circle cx="307.8" cy="834.1" r="0.8" fill="#555" stroke="#141414" stroke-width="0"/>
<polygon points="610.34,670.55 605.4,673.4 600.46,670.55 600.46,664.85 605.4,662 610.34,664.85" fill="#fff" stroke="#141414" stroke-width="1.3"/>
<circle cx="605.4" cy="667.7" r="3.4" fill="none" stroke="#777" stroke-width="0.7"/>
<circle cx="605.4" cy="667.7" r="2.2" fill="none" stroke="#141414" stroke-width="1.3"/>
<circle cx="605.4" cy="667.7" r="0.8" fill="#555" stroke="#141414" stroke-width="0"/>
<polygon points="610.34,836.55 605.4,839.4 600.46,836.55 600.46,830.85 605.4,828 610.34,830.85" fill="#fff" stroke="#141414" stroke-width="1.3"/>
<circle cx="605.4" cy="833.7" r="3.4" fill="none" stroke="#777" stroke-width="0.7"/>
<circle cx="605.4" cy="833.7" r="2.2" fill="none" stroke="#141414" stroke-width="1.3"/>
<circle cx="605.4" cy="833.7" r="0.8" fill="#555" stroke="#141414" stroke-width="0"/>
<text x="389.82" y="708.2" font-size="14.6" textLength="102.13" lengthAdjust="spacingAndGlyphs" class="b">BOTTOM VIEW</text>
<text x="338.33" y="794.2" font-size="20.5" textLength="49.3" lengthAdjust="spacingAndGlyphs">5-M4</text>
<line x1="345.7" y1="801" x2="331" y2="813.5" stroke="#141414" stroke-width="1.5"/>
<polygon points="327.6,819.6 333.6,808.7 338.33,813.3" fill="#141414"/>
<rect x="582.5" y="742.9" width="35.5" height="63.5" fill="#fff" stroke="#141414" stroke-width="1.4"/>
<line x1="588.4" y1="742.9" x2="588.4" y2="806.4" stroke="#141414" stroke-width="1.3"/>
<line x1="610.1" y1="742.9" x2="610.1" y2="806.4" stroke="#141414" stroke-width="1.3"/>
<line x1="614.3" y1="742.9" x2="614.3" y2="806.4" stroke="#141414" stroke-width="1.1"/>
<line x1="616.4" y1="745" x2="616.4" y2="804" stroke="#141414" stroke-width="0.8"/>
<line x1="588.4" y1="754.6" x2="610.1" y2="754.6" stroke="#141414" stroke-width="1.2"/>
<line x1="588.4" y1="764.4" x2="610.1" y2="764.4" stroke="#141414" stroke-width="1.2"/>
<line x1="588.4" y1="784.7" x2="610.1" y2="784.7" stroke="#141414" stroke-width="1.2"/>
<line x1="588.4" y1="794.3" x2="610.1" y2="794.3" stroke="#141414" stroke-width="1.2"/>
<line x1="597.5" y1="769.3" x2="605" y2="769.3" stroke="#141414" stroke-width="1.2"/>
<line x1="603" y1="769.3" x2="603" y2="778" stroke="#141414" stroke-width="1.2"/>
<polygon points="603,781.8 601.1,776.3 604.9,776.3" fill="#141414"/>
<polygon points="593.8,769.3 598.3,767.4 598.3,771.2" fill="#141414"/>
<line x1="582.5" y1="761.4" x2="618" y2="761.4" stroke="#141414" stroke-width="1.9" stroke-dasharray="1.1 4.25" stroke-dashoffset="1.2" stroke-linecap="round"/>
<line x1="626.1" y1="655.1" x2="674.8" y2="655.1" stroke="#141414" stroke-width="1.5"/>
<line x1="623.2" y1="761.4" x2="674.8" y2="761.4" stroke="#141414" stroke-width="1.5"/>
<line x1="659.5" y1="655.1" x2="659.5" y2="761.4" stroke="#141414" stroke-width="1.5"/>
<polygon points="659.5,655.1 655.6,669.6 663.4,669.6" fill="#141414"/>
<polygon points="659.5,761.4 655.6,746.9 663.4,746.9" fill="#141414"/>
<g transform="translate(652.93,746.3) rotate(-90)"><text x="-1.22" y="0" font-size="21" textLength="73.02" lengthAdjust="spacingAndGlyphs">69±0.5</text></g>
<line x1="180.7" y1="820.4" x2="258.9" y2="820.4" stroke="#141414" stroke-width="1.5"/>
<line x1="207.5" y1="684.3" x2="207.5" y2="820.4" stroke="#141414" stroke-width="1.5"/>
<polygon points="207.5,684.3 203.6,698.8 211.4,698.8" fill="#141414"/>
<polygon points="207.5,820.4 203.6,805.9 211.4,805.9" fill="#141414"/>
<g transform="translate(200.03,785.4) rotate(-90)"><text x="-1.03" y="0" font-size="21" textLength="72.37" lengthAdjust="spacingAndGlyphs">89±0.3</text></g>
<line x1="264" y1="857.6" x2="264" y2="967" stroke="#141414" stroke-width="1.5"/>
<line x1="325.9" y1="856" x2="325.9" y2="921.6" stroke="#141414" stroke-width="1.5"/>
<line x1="399.4" y1="856" x2="399.4" y2="873.3" stroke="#141414" stroke-width="1.5"/>
<line x1="399.4" y1="915.2" x2="399.4" y2="967.3" stroke="#141414" stroke-width="1.5"/>
<line x1="570.2" y1="856" x2="570.2" y2="922" stroke="#141414" stroke-width="1.5"/>
<line x1="159.5" y1="909.7" x2="570.2" y2="909.7" stroke="#141414" stroke-width="1.5"/>
<polygon points="264,909.7 278.5,905.8 278.5,913.6" fill="#141414"/>
<polygon points="325.9,909.7 311.4,905.8 311.4,913.6" fill="#141414"/>
<polygon points="325.9,909.7 340.4,905.8 340.4,913.6" fill="#141414"/>
<polygon points="570.2,909.7 555.7,905.8 555.7,913.6" fill="#141414"/>
<line x1="264" y1="956.8" x2="399.4" y2="956.8" stroke="#141414" stroke-width="1.5"/>
<polygon points="264,956.8 278.5,952.9 278.5,960.7" fill="#141414"/>
<polygon points="399.4,956.8 384.9,952.9 384.9,960.7" fill="#141414"/>
<text x="158.6" y="900.8" font-size="20" textLength="91.38" lengthAdjust="spacingAndGlyphs">39.3±0.5</text>
<text x="376.47" y="900.6" font-size="20" textLength="105.77" lengthAdjust="spacingAndGlyphs"> 59.7±0.3</text><path transform="translate(376.47,900.60) scale(0.01163,-0.00977)" d="M560,0 L750,0 L750,1409 L610,1409 C540,1300 420,1210 200,1175 L200,1040 C370,1060 480,1110 560,1170 Z" fill="#151515" stroke="#151515" stroke-width="0.22" vector-effect="non-scaling-stroke"/>
<text x="294.96" y="949.8" font-size="20" textLength="73.35" lengthAdjust="spacingAndGlyphs">88±0.5</text>
</svg></body></html>
